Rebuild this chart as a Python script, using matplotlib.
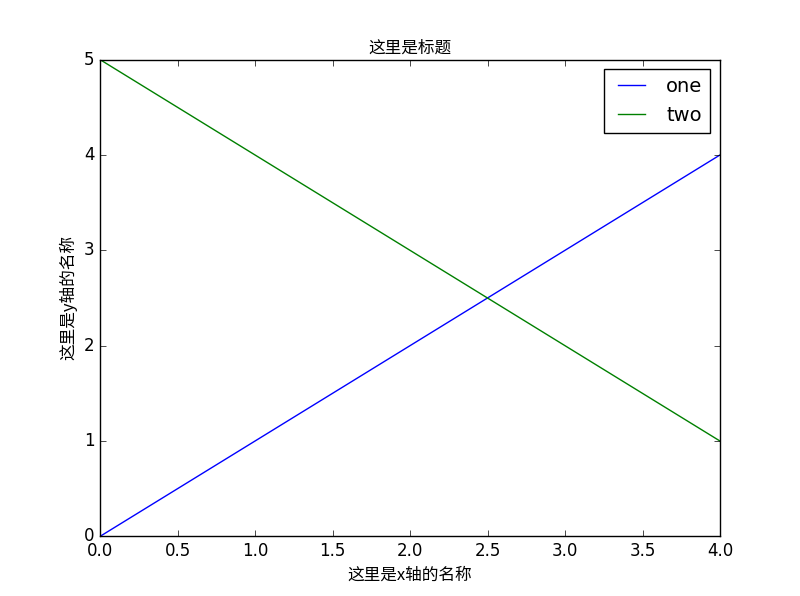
import matplotlib
matplotlib.use('Agg')
import matplotlib.pyplot as plt

plt.style.use('classic')

# data
x = [0, 1, 2, 3, 4]
y_one = [0, 1, 2, 3, 4]
y_two = [5, 4, 3, 2, 1]

cjk = ['Noto Sans CJK SC', 'DejaVu Sans']

fig = plt.figure(figsize=(8, 5.96), dpi=100)
fig.patch.set_facecolor('white')
ax = fig.add_subplot(111)
fig.subplots_adjust(left=0.125, right=0.9, bottom=0.1, top=0.9)

ax.plot(x, y_one, 'b', label='one')
ax.plot(x, y_two, 'g', label='two')

ax.set_title(u'这里是标题', family=cjk, fontsize=12)
ax.set_xlabel(u'这里是x轴的名称', family=cjk, fontsize=12)
ax.set_ylabel(u'这里是y轴的名称', family=cjk, fontsize=12)

ax.legend(loc='upper right', fontsize=14)

fig.savefig('out.png', dpi=100, facecolor='white')
